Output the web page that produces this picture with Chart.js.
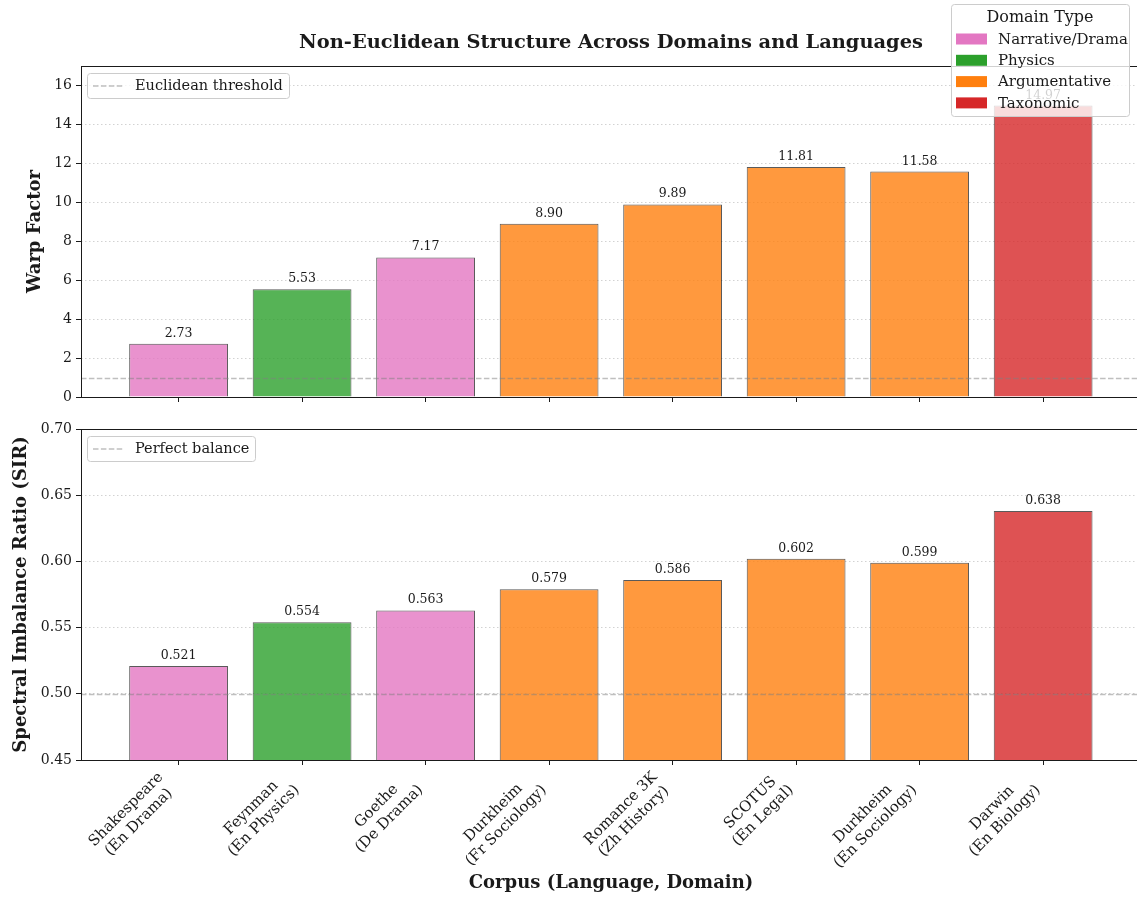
<!DOCTYPE html>
<html>
<head>
<meta charset="utf-8">
<script src="https://cdn.jsdelivr.net/npm/chart.js@4.4.1/dist/chart.umd.min.js"></script>
<style>
  html, body { margin: 0; padding: 0; background: #fff; overflow: hidden; width: 1137px; height: 897px; }
  canvas { position: absolute; left: 0; }
  #warpChart { top: 0; }
  #sirChart { top: 413px; }
</style>
</head>
<body>
<canvas id="warpChart" width="1137" height="413"></canvas>
<canvas id="sirChart" width="1137" height="484"></canvas>
<script>
// data
const corpora = ['Shakespeare', 'Feynman', 'Goethe', 'Durkheim', 'Romance 3K', 'SCOTUS', 'Durkheim', 'Darwin'];
const corpusInfo = ['(En Drama)', '(En Physics)', '(De Drama)', '(Fr Sociology)', '(Zh History)', '(En Legal)', '(En Sociology)', '(En Biology)'];
const domains = ['Narrative/Drama', 'Physics', 'Narrative/Drama', 'Argumentative', 'Argumentative', 'Argumentative', 'Argumentative', 'Taxonomic'];
const domainTypes = ['Narrative/Drama', 'Physics', 'Argumentative', 'Taxonomic'];
const warpFactor = [2.73, 5.53, 7.17, 8.90, 9.89, 11.81, 11.58, 14.97];
const sirValues = [0.521, 0.554, 0.563, 0.579, 0.586, 0.602, 0.599, 0.638];
const warpTicks = [0, 2, 4, 6, 8, 10, 12, 14, 16];
const sirTicks = [0.45, 0.50, 0.55, 0.60, 0.65, 0.70];
const euclideanThreshold = 1;
const perfectBalance = 0.5;

const domainColor = {
    'Narrative/Drama': [227, 119, 194],
    'Physics': [44, 160, 44],
    'Argumentative': [255, 127, 14],
    'Taxonomic': [214, 39, 40]
};
const rgba = (c, a) => `rgba(${c[0]},${c[1]},${c[2]},${a})`;
const SERIF = "'DejaVu Serif', serif";
const INK = '#1a1a1a';

function roundBox(ctx, x, y, w, h, r) {
    ctx.beginPath();
    ctx.roundRect(x, y, w, h, r);
    ctx.fillStyle = 'rgba(255,255,255,0.8)';
    ctx.fill();
    ctx.strokeStyle = '#cccccc';
    ctx.lineWidth = 1;
    ctx.stroke();
}

function refLegend(ctx, x, y, w, h, label) {
    roundBox(ctx, x + 0.5, y + 0.5, w, h, 3);
    ctx.save();
    ctx.strokeStyle = 'rgba(128,128,128,0.5)';
    ctx.lineWidth = 1.5;
    ctx.setLineDash([5.5, 2.4]);
    ctx.beginPath();
    ctx.moveTo(x + 6, y + h / 2 + 0.5);
    ctx.lineTo(x + 36, y + h / 2 + 0.5);
    ctx.stroke();
    ctx.restore();
    ctx.fillStyle = INK;
    ctx.font = `14.5px ${SERIF}`;
    ctx.textAlign = 'left';
    ctx.textBaseline = 'middle';
    ctx.fillText(label, x + 48, y + h / 2 + 1);
}

// draws reference line, value labels, spines, titles and legends
function decorPlugin(cfg) {
    return {
        id: 'decor',
        afterDraw(chart) {
            const ctx = chart.ctx;
            const area = chart.chartArea;
            const ys = chart.scales.y;
            const xs = chart.scales.x;
            ctx.save();

            // dashed reference line
            const ry = Math.round(ys.getPixelForValue(cfg.refValue)) + 0.5;
            ctx.strokeStyle = 'rgba(128,128,128,0.5)';
            ctx.lineWidth = 1.5;
            ctx.setLineDash([5.5, 2.4]);
            ctx.beginPath();
            ctx.moveTo(area.left, ry);
            ctx.lineTo(area.right, ry);
            ctx.stroke();
            ctx.setLineDash([]);

            // value labels
            ctx.fillStyle = INK;
            ctx.font = `12.5px ${SERIF}`;
            ctx.textAlign = 'center';
            ctx.textBaseline = 'alphabetic';
            chart.getDatasetMeta(0).data.forEach((bar, i) => {
                ctx.fillText(cfg.values[i].toFixed(cfg.digits), bar.x, bar.y - 7);
            });

            // spines
            ctx.strokeStyle = INK;
            ctx.lineWidth = 1;
            ctx.beginPath();
            ctx.moveTo(area.left + 0.5, area.top + 0.5);
            ctx.lineTo(area.left + 0.5, area.bottom + 0.5);
            ctx.moveTo(area.left, area.top + 0.5);
            ctx.lineTo(chart.width, area.top + 0.5);
            ctx.moveTo(area.left, area.bottom + 0.5);
            ctx.lineTo(chart.width, area.bottom + 0.5);
            ctx.stroke();

            // y axis title
            ctx.save();
            ctx.translate(cfg.yTitleX, (area.top + area.bottom) / 2);
            ctx.rotate(-Math.PI / 2);
            ctx.font = `bold 18px ${SERIF}`;
            ctx.fillStyle = INK;
            ctx.textAlign = 'center';
            ctx.textBaseline = 'middle';
            ctx.fillText(cfg.yTitle, 0, 0);
            ctx.restore();

            const axisMid = 611;

            if (cfg.xLabels) {
                ctx.font = `15px ${SERIF}`;
                ctx.fillStyle = INK;
                ctx.textAlign = 'center';
                ctx.textBaseline = 'middle';
                const lineH = 18;
                corpora.forEach((name, i) => {
                    const lines = [name, corpusInfo[i]];
                    const W = Math.max(...lines.map(l => ctx.measureText(l).width));
                    const H = lineH * lines.length - 2;
                    const half = (W + H) * Math.SQRT1_2 / 2;
                    const tx = xs.getPixelForValue(i);
                    const cx = tx - half;
                    const cy = area.bottom + 8.5 + half;
                    ctx.save();
                    ctx.translate(cx, cy);
                    ctx.rotate(-Math.PI / 4);
                    lines.forEach((l, k) => ctx.fillText(l, 0, -H / 2 + (k + 0.5) * lineH));
                    ctx.restore();
                });
                ctx.font = `bold 18px ${SERIF}`;
                ctx.fillText('Corpus (Language, Domain)', axisMid, 883 - 413);
            }

            if (cfg.title) {
                ctx.font = `bold 19.4px ${SERIF}`;
                ctx.fillStyle = INK;
                ctx.textAlign = 'center';
                ctx.textBaseline = 'middle';
                ctx.fillText(cfg.title, axisMid, 43);
            }

            refLegend(ctx, 87, area.top + 7, cfg.legendW, 25, cfg.refLabel);

            if (cfg.domainLegend) {
                roundBox(ctx, 951.5, 4.5, 178, 112, 3);
                ctx.fillStyle = INK;
                ctx.textAlign = 'center';
                ctx.textBaseline = 'middle';
                ctx.font = `16px ${SERIF}`;
                ctx.fillText('Domain Type', 1040, 18);
                ctx.font = `15px ${SERIF}`;
                ctx.textAlign = 'left';
                domainTypes.forEach((d, k) => {
                    const cy = 39 + k * 21.3;
                    ctx.fillStyle = rgba(domainColor[d], 1);
                    ctx.fillRect(956, cy - 5.5, 31, 11);
                    ctx.fillStyle = INK;
                    ctx.fillText(d, 998, cy + 1);
                });
            }
            ctx.restore();
        }
    };
}

function makeChart(el, values, cfg) {
    return new Chart(el, {
        type: 'bar',
        data: {
            datasets: [{
                data: values.map((v, i) => ({ x: i, y: v })),
                backgroundColor: domains.map(d => rgba(domainColor[d], 0.8)),
                borderColor: 'rgba(20,20,20,0.7)',
                borderWidth: 1,
                categoryPercentage: 0.8,
                barPercentage: 1
            }]
        },
        options: {
            responsive: false,
            animation: false,
            devicePixelRatio: 1,
            layout: { padding: { top: cfg.padTop, left: 0, right: 0, bottom: 0 } },
            plugins: { legend: { display: false }, tooltip: { enabled: false } },
            scales: {
                x: {
                    type: 'linear',
                    offset: false,
                    min: -0.79,
                    max: 7.76,
                    afterBuildTicks: s => { s.ticks = corpora.map((_, i) => ({ value: i })); },
                    afterFit: s => { s.height = cfg.xHeight; },
                    ticks: { display: false },
                    grid: { offset: false, drawOnChartArea: false, tickLength: 5, tickColor: INK, tickWidth: 1 },
                    border: { display: false }
                },
                y: {
                    min: cfg.min,
                    max: cfg.max,
                    afterBuildTicks: s => { s.ticks = cfg.ticks.map(v => ({ value: v })); },
                    afterFit: s => { s.width = 81; },
                    ticks: {
                        font: { family: SERIF, size: 14 },
                        color: INK,
                        padding: 4,
                        callback: v => cfg.fmt(v)
                    },
                    grid: { color: '#d2d2d2', lineWidth: 1, tickLength: 5, tickColor: INK, tickWidth: 1 },
                    border: { display: false, dash: [1.5, 2.5] }
                }
            }
        },
        plugins: [decorPlugin(Object.assign({ values }, cfg))]
    });
}

makeChart(document.getElementById('warpChart'), warpFactor, {
    padTop: 66, xHeight: 16, min: 0, max: 17, ticks: warpTicks,
    fmt: v => String(v), digits: 2, refValue: euclideanThreshold,
    refLabel: 'Euclidean threshold', legendW: 202,
    yTitle: 'Warp Factor', yTitleX: 35,
    title: 'Non-Euclidean Structure Across Domains and Languages',
    domainLegend: true
});

makeChart(document.getElementById('sirChart'), sirValues, {
    padTop: 16, xHeight: 137, min: 0.45, max: 0.70, ticks: sirTicks,
    fmt: v => v.toFixed(2), digits: 3, refValue: perfectBalance,
    refLabel: 'Perfect balance', legendW: 168,
    yTitle: 'Spectral Imbalance Ratio (SIR)', yTitleX: 21,
    xLabels: true
});
</script>
</body>
</html>
